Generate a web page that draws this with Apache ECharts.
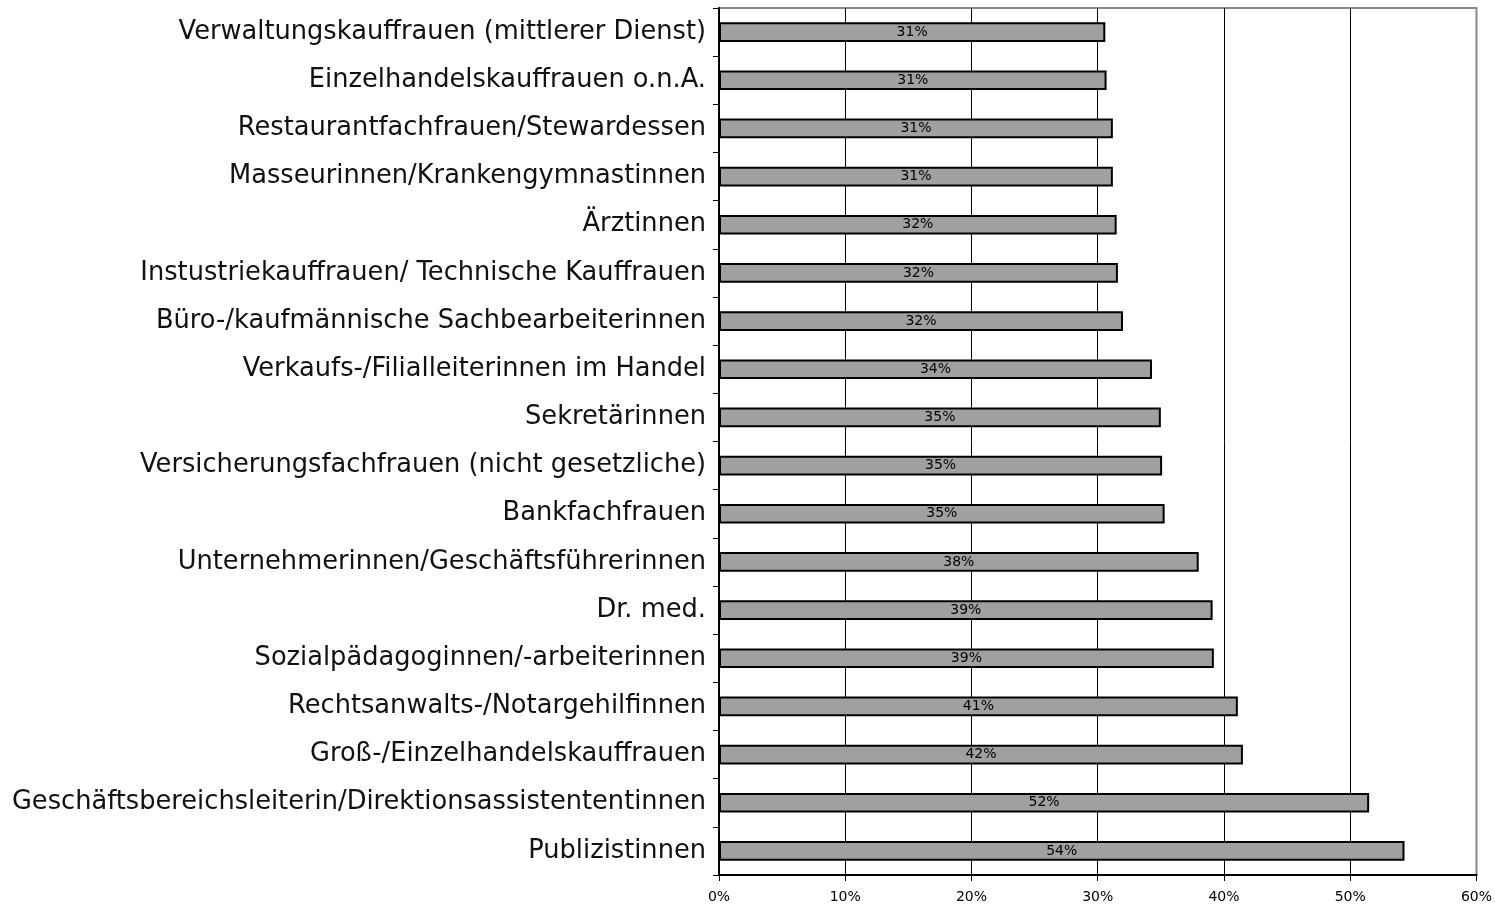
<!DOCTYPE html>
<html>
<head>
<meta charset="utf-8">
<script src="https://cdn.jsdelivr.net/npm/echarts@6/dist/echarts.min.js"></script>
<style>
  html, body { margin: 0; padding: 0; background: #fff; }
  #chart { width: 1495px; height: 906px; }
</style>
</head>
<body>
<div id="chart"></div>
<script>
// categories, top to bottom
const categories = [
  'Verwaltungskauffrauen (mittlerer Dienst)',
  'Einzelhandelskauffrauen o.n.A.',
  'Restaurantfachfrauen/Stewardessen',
  'Masseurinnen/Krankengymnastinnen',
  'Ärztinnen',
  'Instustriekauffrauen/ Technische Kauffrauen',
  'Büro-/kaufmännische Sachbearbeiterinnen',
  'Verkaufs-/Filialleiterinnen im Handel',
  'Sekretärinnen',
  'Versicherungsfachfrauen (nicht gesetzliche)',
  'Bankfachfrauen',
  'Unternehmerinnen/Geschäftsführerinnen',
  'Dr. med.',
  'Sozialpädagoginnen/-arbeiterinnen',
  'Rechtsanwalts-/Notargehilfinnen',
  'Groß-/Einzelhandelskauffrauen',
  'Geschäftsbereichsleiterin/Direktionsassistententinnen',
  'Publizistinnen'
]

// share in percent
const values = [30.6, 30.7, 31.2, 31.2, 31.5, 31.6, 32.0, 34.3, 35.0, 35.1, 35.3, 38.0, 39.1, 39.2, 41.1, 41.5, 51.5, 54.3]

const xTicks = [0, 10, 20, 30, 40, 50, 60]

const font = 'DejaVu Sans, Verdana, sans-serif'

const chart = echarts.init(document.getElementById('chart'))
chart.setOption({
  animation: false,
  grid: { left: 719, right: 18, top: 8, bottom: 31, show: true, borderColor: '#888', borderWidth: 2 },
  xAxis: {
    type: 'value',
    min: xTicks[0],
    max: xTicks[xTicks.length - 1],
    interval: 10,
    axisLine: { show: true, lineStyle: { color: '#000', width: 2 } },
    axisTick: { show: true, length: 6, lineStyle: { color: '#000' } },
    axisLabel: { formatter: '{value}%', color: '#000', fontSize: 14, fontFamily: font, margin: 15 },
    splitLine: { show: true, lineStyle: { color: ['#000', '#000', '#000', '#000', '#000', '#000', '#888'], width: 1 } }
  },
  yAxis: {
    type: 'category',
    inverse: true,
    data: categories,
    axisLine: { show: true, lineStyle: { color: '#000', width: 2 } },
    axisTick: { show: true, length: 6, lineStyle: { color: '#000' } },
    axisLabel: { color: '#111', fontSize: 25.7, fontFamily: font, margin: 13 },
    splitLine: { show: false }
  },
  series: [{
    type: 'bar',
    data: values,
    barWidth: '41%',
    itemStyle: { color: '#a0a0a0', borderColor: '#000', borderWidth: 2 },
    label: {
      show: true,
      position: 'inside',
      color: '#000',
      fontSize: 14,
      fontFamily: font,
      formatter: p => Math.round(p.value) + '%'
    }
  }]
})
</script>
</body>
</html>
